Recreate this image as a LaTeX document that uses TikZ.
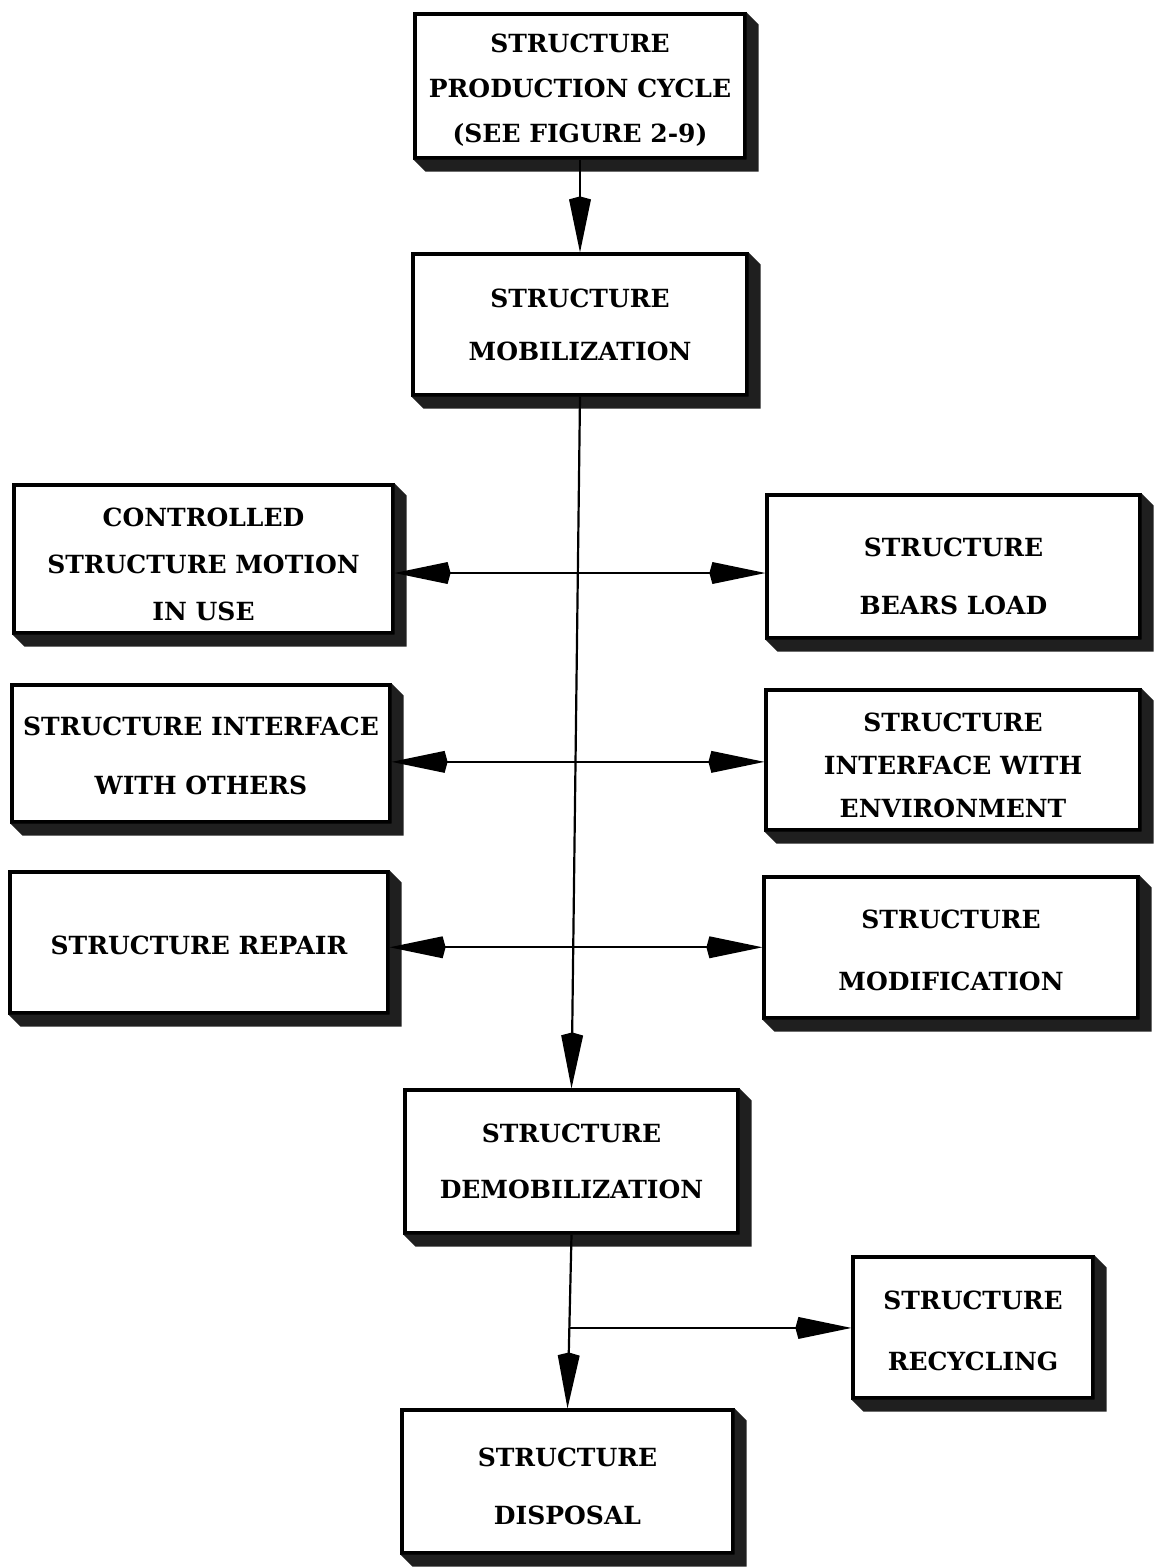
\documentclass[tikz,border=0pt]{standalone}
\usepackage{fontspec}
\setmainfont{DejaVu Serif}
\usetikzlibrary{arrows.meta}
\tikzset{
  box/.style={draw, line width=1.6pt, fill=white, inner sep=0pt},
  txt/.style={inner sep=0pt, align=center, font=\bfseries\fontsize{12.5}{15}\selectfont},
  link/.style={line width=1.1pt},
  arr/.style={link, -{Kite[length=28pt,width=11pt,inset=1.5pt]}},
  twoway/.style={link, {Kite[length=28pt,width=11pt,inset=1.5pt]}-{Kite[length=28pt,width=11pt,inset=1.5pt]}},
  shadowfill/.style={fill=black!88},
}
\begin{document}
\begin{tikzpicture}[x=0.5pt,y=-0.5pt]
\useasboundingbox (0,0) rectangle (1155,1568);

% boxes
\node[box, minimum width=165pt, minimum height=72pt] (prod) at (580,86) {};
\node[box, minimum width=167pt, minimum height=70.5pt] (mob) at (580,324.5) {};
\node[box, minimum width=189.5pt, minimum height=74pt] (ctrl) at (203.5,559) {};
\node[box, minimum width=186.5pt, minimum height=71.5pt] (bears) at (953.5,566.5) {};
\node[box, minimum width=189pt, minimum height=68.5pt] (others) at (201,753.5) {};
\node[box, minimum width=187pt, minimum height=70pt] (env) at (953,760) {};
\node[box, minimum width=189pt, minimum height=70.5pt] (repair) at (199,942.5) {};
\node[box, minimum width=187pt, minimum height=70.5pt] (modif) at (951,947.5) {};
\node[box, minimum width=166.5pt, minimum height=71.5pt] (demob) at (571.5,1161.5) {};
\node[box, minimum width=120pt, minimum height=70.5pt] (recyc) at (973,1327.5) {};
\node[box, minimum width=165.5pt, minimum height=71.5pt] (disp) at (567.5,1481.5) {};

% heavy shadows along the right and bottom edges
\foreach \n in {prod,mob,ctrl,bears,others,env,repair,modif,demob,recyc,disp}{
  \fill[shadowfill] (\n.north east) -- ++(6pt,-6pt)
    -- ([shift={(6pt,-6pt)}]\n.south east)
    -- ([shift={(6pt,-6pt)}]\n.south west)
    -- (\n.south west) -- (\n.south east) -- cycle;
}

% box texts
\node[txt] (prodt) at ([yshift=-2pt]prod.center)
  {STRUCTURE\\[7.5pt] PRODUCTION CYCLE\\[7.5pt] (SEE FIGURE 2-9)};
\node[txt] (mobt) at (mob.center) {STRUCTURE\\[11.5pt] MOBILIZATION};
\node[txt] (ctrlt) at ([yshift=-2.5pt]ctrl.center)
  {CONTROLLED\\[8.5pt] STRUCTURE MOTION\\[8.5pt] IN USE};
\node[txt] (bearst) at ([yshift=-5pt]bears.center) {STRUCTURE\\[14pt] BEARS LOAD};
\node[txt] (otherst) at ([yshift=-1pt]others.center)
  {STRUCTURE INTERFACE\\[14.5pt] WITH OTHERS};
\node[txt] (envt) at ([yshift=-2.5pt]env.center)
  {STRUCTURE\\[6.5pt] INTERFACE WITH\\[6.5pt] ENVIRONMENT};
\node[txt] (repairt) at ([yshift=-1.5pt]repair.center) {STRUCTURE REPAIR};
\node[txt] (modift) at ([yshift=-1.5pt]modif.center) {STRUCTURE\\[16pt] MODIFICATION};
\node[txt] (demobt) at (demob.center) {STRUCTURE\\[13pt] DEMOBILIZATION};
\node[txt] (recyct) at ([yshift=-1.5pt]recyc.center) {STRUCTURE\\[15.5pt] RECYCLING};
\node[txt] (dispt) at ([yshift=-2.5pt]disp.center) {STRUCTURE\\[14pt] DISPOSAL};

% main flow
\draw[arr] (prod.south) -- (mob.north);
\draw[arr] (mob.south) -- (demob.north)
  coordinate[pos=0.255] (s1)
  coordinate[pos=0.528] (s2)
  coordinate[pos=0.796] (s3);

% two-way links crossing the main flow
\draw[twoway] (ctrl.east |- s1) -- (bears.west |- s1);
\draw[twoway] (others.east |- s2) -- (env.west |- s2);
\draw[twoway] (repair.east |- s3) -- (modif.west |- s3);

% end of life
\draw[arr] (demob.south) -- (disp.north) coordinate[pos=0.537] (br);
\draw[arr] (br) -- (br -| recyc.west);
\end{tikzpicture}
\end{document}
